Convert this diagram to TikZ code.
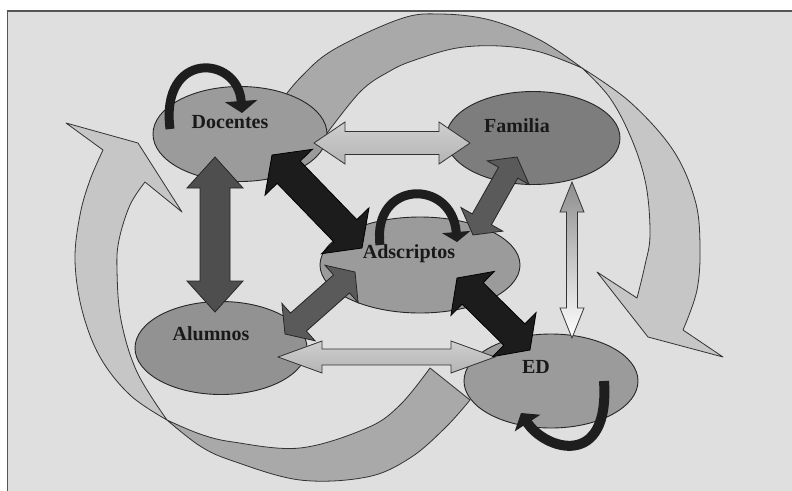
\documentclass[tikz,border=0pt]{standalone}
\usepackage{fontspec}
\setmainfont{Liberation Serif}
\usetikzlibrary{calc,shapes.geometric,arrows.meta}
\definecolor{bgc}{HTML}{DFDFDF}
\definecolor{framec}{HTML}{555555}
\definecolor{banddark}{HTML}{A9A9A9}
\definecolor{bandlight}{HTML}{C6C6C6}
\definecolor{ellc}{HTML}{9B9B9B}
\definecolor{ellalu}{HTML}{929292}
\definecolor{ellfam}{HTML}{7D7D7D}
\definecolor{arrdark}{HTML}{5A5A5A}
\definecolor{arrdarker}{HTML}{4E4E4E}
\definecolor{arrblack}{HTML}{1C1C1C}
\definecolor{loopc}{HTML}{1E1E1E}
\definecolor{shadeg}{HTML}{CFCFCF}
\definecolor{shadeg2}{HTML}{B4B4B4}
\definecolor{shadeg3}{HTML}{8E8E8E}
\newcommand\dblarrow[6]{%
  \coordinate (hA) at ($(#1)!#5!(#2)$);
  \coordinate (hB) at ($(#2)!#5!(#1)$);
  \path[#6] (#1) -- ($(hA)!#4!90:(#2)$) -- ($(hA)!#3!90:(#2)$) -- ($(hB)!#3!-90:(#1)$) -- ($(hB)!#4!-90:(#1)$) -- (#2) -- ($(hB)!#4!90:(#1)$) -- ($(hB)!#3!90:(#1)$) -- ($(hA)!#3!-90:(#2)$) -- ($(hA)!#4!-90:(#2)$) -- cycle;
}
\begin{document}
\begin{tikzpicture}[x=1pt,y=-1pt,
  ell/.style={ellipse, draw=black!85, line width=0.9pt, inner sep=0pt},
  lbl/.style={font=\fontsize{20}{24}\selectfont\bfseries, text=black!90, anchor=base, inner sep=0pt},
  band/.style={draw=black!80, line width=0.8pt, line join=round},
  darkarr/.style={draw=black!85, line width=0.8pt, fill=arrdark},
  blackarr/.style={draw=black, line width=0.8pt, fill=arrblack},
  whitearr/.style={draw=black!80, line width=0.8pt},
  loopa/.style={draw=loopc, line width=9pt}
]
\useasboundingbox (0,0) rectangle (792,490);
\fill[white] (0,0) rectangle (792,490);
\draw[fill=bgc, draw=framec, line width=1.6pt] (7.5,11) rectangle (810,510);

% large curved bands
\draw[band, fill=banddark] plot[smooth, tension=0.6] coordinates {(282,100) (300,78) (333,50) (400,19) (440,14) (490,20) (540,40) (582,68)} -- plot[smooth, tension=0.6] coordinates {(582,68) (540,52) (500,46) (457,48) (415,60) (390,71) (360,92) (322,140)} -- cycle;
\draw[band, fill=bandlight] plot[smooth, tension=0.6] coordinates {(582,68) (630,102) (673,150) (695,200) (700,245) (697,290) (683,330)} -- (723,357) -- (648,337) -- (597,272) -- plot[smooth,tension=0.6] coordinates {(637,298) (645,265) (650,235) (646,185) (632,140) (610,98) (582,68)} -- cycle;
\draw[band, fill=banddark] plot[smooth, tension=0.6] coordinates {(167,420) (200,446) (233,461) (300,480) (367,477) (410,458) (445,428) (470,400)} -- (430,368) -- plot[smooth,tension=0.6] coordinates {(430,368) (400,405) (367,428) (300,448) (233,442) (200,434) (167,420)} -- cycle;
\draw[band, fill=bandlight] plot[smooth,tension=0.6] coordinates {(167,420) (130,395) (100,357) (82,310) (75,260) (80,215) (90,180) (103,150)} -- (66,123) -- (138,143) -- (182,212) -- plot[smooth,tension=0.6] coordinates {(145,182) (130,205) (119,240) (117,270) (121,320) (137,372) (167,420)} -- cycle;

% ellipses
\node[ell, fill=ellc, minimum width=174pt, minimum height=95pt] (doc) at (240,134) {};
\node[ell, fill=ellfam, minimum width=174pt, minimum height=93pt] (fam) at (533,138) {};
\node[ell, fill=ellc, minimum width=200pt, minimum height=96pt] (ads) at (420,265) {};
\node[ell, fill=ellalu, minimum width=172pt, minimum height=93pt] (alu) at (221,348) {};
\node[ell, fill=ellc, minimum width=174pt, minimum height=94pt] (ed) at (551,381) {};

% arrow end points
\coordinate (df1) at (314,143); \coordinate (df2) at (470,143);
\coordinate (ae1) at (278,357); \coordinate (ae2) at (495,357);
\coordinate (fe1) at (572,182); \coordinate (fe2) at (572,338);
\coordinate (da1) at (215,157); \coordinate (da2) at (215,312);
\coordinate (dx1) at (272,155); \coordinate (dx2) at (362,248);
\coordinate (fx1) at (517,157); \coordinate (fx2) at (473,235);
\coordinate (ax1) at (285,334); \coordinate (ax2) at (355,272);
\coordinate (ex1) at (457,278); \coordinate (ex2) at (530,350);

\dblarrow{df1}{df2}{11.5pt}{21pt}{31pt}{whitearr, top color=shadeg, middle color=white, bottom color=shadeg2}
\dblarrow{ae1}{ae2}{8pt}{16pt}{44pt}{whitearr, top color=shadeg, middle color=white, bottom color=shadeg2}
\dblarrow{fe1}{fe2}{5.5pt}{12pt}{30pt}{whitearr, top color=shadeg3, bottom color=white}
\dblarrow{da1}{da2}{15pt}{28pt}{31pt}{darkarr, fill=arrdarker}
\dblarrow{dx1}{dx2}{16pt}{33pt}{24pt}{blackarr}
\dblarrow{fx1}{fx2}{11pt}{24pt}{18pt}{darkarr}
\dblarrow{ax1}{ax2}{12pt}{25pt}{18pt}{darkarr}
\dblarrow{ex1}{ex2}{15pt}{31pt}{22pt}{blackarr}

% self loops
\draw[loopa, -{Triangle[width=32pt,length=12pt]}] (170,129) .. controls (160,50) and (238,55) .. (242,113);
\draw[loopa, -{Triangle[width=28pt,length=10pt]}] (380,245) .. controls (372,180) and (452,178) .. (457,242);
\draw[loopa, line width=10pt, -{Triangle[width=30pt,length=12pt]}] (604,381) .. controls (610,470) and (545,450) .. (521,413);

% labels
\node[lbl] (tdoc) at (230,128) {Docentes};
\node[lbl] (tfam) at (517,132) {Familia};
\node[lbl] (tads) at (409,258) {Adscriptos};
\node[lbl] (talu) at (211,340) {Alumnos};
\node[lbl] (ted) at (536,373) {ED};
\end{tikzpicture}
\end{document}
